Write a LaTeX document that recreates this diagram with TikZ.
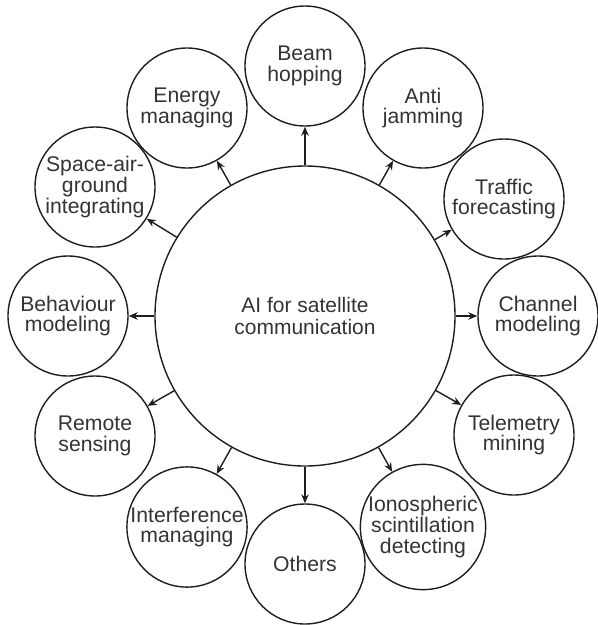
\documentclass[tikz,border=0pt]{standalone}
\usepackage{fontspec}
\setmainfont{Liberation Sans}
\usetikzlibrary{arrows.meta}
\definecolor{inkline}{HTML}{1E1E1E}
\definecolor{inktext}{HTML}{333333}
\begin{document}
\begin{tikzpicture}[x=1pt,y=-1pt,
  hub/.style={circle,draw=inkline,line width=1.4pt,minimum size=300pt,inner sep=0pt,
    text=inktext,align=center,font=\fontsize{21}{21.5}\selectfont},
  topic/.style={circle,draw=inkline,line width=1.4pt,minimum size=120pt,inner sep=0pt,
    text=inktext,align=center,font=\fontsize{21.2}{20.8}\selectfont},
  arr/.style={draw=inkline,line width=1.4pt,-{Stealth[length=9pt,width=7.5pt]}}]
  \useasboundingbox (0,0) rectangle (598,625);
  \node[hub] (C) at (305,316) {AI for satellite\\communication};
  \node[topic] (beam)  at (305,66)  {Beam\\hopping};
  \node[topic] (anti)  at (423,108) {Anti\\jamming};
  \node[topic] (traf)  at (504,199) {Traffic\\forecasting};
  \node[topic] (chan)  at (538,316) {Channel\\modeling};
  \node[topic] (tele)  at (514,435) {Telemetry\\mining};
  \node[topic] (iono)  at (423,527) {Ionospheric\\scintillation\\detecting};
  \node[topic] (oth)   at (305,564) {Others};
  \node[topic] (intf)  at (187,527) {Interference\\managing};
  \node[topic] (rem)   at (95,436)  {Remote\\sensing};
  \node[topic] (beh)   at (68,316)  {Behaviour\\modeling};
  \node[topic] (sag)   at (95,187)  {Space-air-\\ground\\integrating};
  \node[topic] (ener)  at (187,108) {Energy\\managing};
  \foreach \t in {beam,anti,traf,chan,tele,iono,oth,intf,rem,beh,sag,ener}
    \draw[arr] (C) -- (\t);
\end{tikzpicture}
\end{document}
